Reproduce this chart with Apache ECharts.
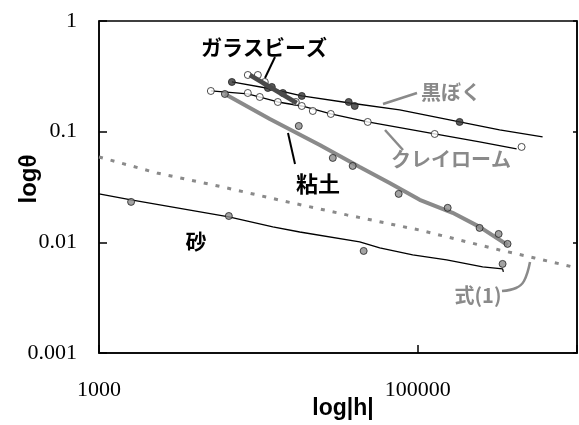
<!DOCTYPE html>
<html><head><meta charset="utf-8">
<script src="https://cdn.jsdelivr.net/npm/echarts@6/dist/echarts.min.js"></script>
<style>html,body{margin:0;padding:0;background:#fff}#c{width:579px;height:425px}</style>
</head><body><div id="c"></div>
<script>
const xTickLabels = [1000, 100000];
const yTickLabels = [1, 0.1, 0.01, 0.001];

const sandLine = [[1000,0.0274],[1590,0.0242],[6530,0.0170],[12330,0.0138],[18200,0.0124],[43270,0.0101],[57800,0.0089],[93070,0.00769],[152000,0.00693],[255800,0.0060],[341200,0.00575],[345000,0.0054]];
const sandPts = [[1590,0.0232],[6530,0.0173],[45820,0.00836],[341200,0.00638]];
const eq1Line = [[1000,0.0591],[2310,0.0423],[5990,0.0316],[14250,0.0237],[35900,0.0177],[103000,0.0129],[326700,0.00853],[541700,0.00723],[1000000,0.00587]];
const clayLine = [[6166,0.2191],[11810,0.1302],[24300,0.0759],[43270,0.0480],[66700,0.0344],[103000,0.0242],[165700,0.0185],[244700,0.0138],[366600,0.00947]];
const clayPts = [[6166,0.2191],[17940,0.1126],[29330,0.0579],[39100,0.0490],[76000,0.0274],[154300,0.0205],[244700,0.0135],[322200,0.0119],[366600,0.00968]];
const kuroLine = [[6823,0.2812],[12150,0.243],[18740,0.2102],[37500,0.1816],[77100,0.1571],[183300,0.1224],[326700,0.1036],[608300,0.0896]];
const kuroPts = [[6823,0.2812],[11480,0.2481],[18740,0.2102],[36910,0.1854],[40270,0.1706],[183300,0.1224]];
const loamLine = [[5035,0.2332],[8590,0.2191],[13250,0.1854],[18740,0.1706],[28500,0.1445],[48580,0.1224],[127900,0.0953],[244700,0.0807],[417800,0.0698]];
const loamPts = [[5035,0.2332],[8590,0.2237],[10210,0.2058],[13250,0.1854],[18740,0.1706],[21970,0.1538],[28500,0.1445],[48580,0.1224],[127900,0.0953],[449000,0.0728]];
const beadLine = [[8846,0.3253],[17430,0.1816]];
const beadOpen = [[8590,0.3253],[9930,0.3253],[10980,0.2812],[17190,0.1854]];
const beadDark = [[12150,0.2534],[14250,0.2237]];

const chart = echarts.init(document.getElementById('c'), null, {renderer:'canvas'});
const GRAY = '#8a8a8a';
function lineS(data, color, width, type, z) {
  return {type:'line', data, showSymbol:false, symbol:'none', lineStyle:{color, width, type: type||'solid'}, z: z||2, silent:true};
}
function ptS(data, fill, z) {
  return {type:'scatter', data, symbol:'circle', symbolSize:7, itemStyle:{color:fill, borderColor:'#222', borderWidth:1}, z: z||5, silent:true};
}
const jp = '"Noto Sans CJK JP", sans-serif';
function label(text, x, y, size, color) {
  return {type:'text', x, y, z:20, style:{text, align:'center', verticalAlign:'middle', fontSize:size, fontWeight:'bold', fontFamily:jp, fill:color}};
}
function seg(points, color, width, smooth) {
  return {type:'polyline', z:20, shape:{points, smooth: smooth||0}, style:{stroke:color, lineWidth:width, fill:null}};
}
const option = {
  animation:false,
  backgroundColor:'#fff',
  grid:{left:99, right:2, top:21, bottom:72, show:true, borderColor:'#000', borderWidth:1.5, containLabel:false, outerBoundsMode:'none'},
  xAxis:{type:'log', logBase:10, min:1000, max:1000000, interval:2,
    name:'log|h|', nameLocation:'middle', nameGap:44, nameMoveOverlap:false,
    nameTextStyle:{fontFamily:'Liberation Sans', fontWeight:'bold', fontSize:23, color:'#000', padding:[0,0,0,10]},
    axisLine:{lineStyle:{color:'#000', width:1.5}},
    axisTick:{inside:true, length:8, lineStyle:{color:'#000', width:1.5}},
    minorTick:{show:false}, splitLine:{show:false},
    axisLabel:{margin:26, fontFamily:'Liberation Serif', fontSize:22, color:'#000',
      formatter: v => { const r = Math.round(v); return xTickLabels.includes(r) ? String(r) : ''; }}
  },
  yAxis:[{type:'log', logBase:10, min:0.001, max:1,
    name:'logθ', nameLocation:'middle', nameRotate:90, nameGap:58, nameMoveOverlap:false,
    nameTextStyle:{fontFamily:'Liberation Sans', fontWeight:'bold', fontSize:24, color:'#000', padding:[0,0,0,16]},
    axisLine:{lineStyle:{color:'#000', width:1.5}},
    axisTick:{inside:true, length:8, lineStyle:{color:'#000', width:1.5}},
    minorTick:{show:false}, splitLine:{show:false},
    axisLabel:{margin:22, fontFamily:'Liberation Serif', fontSize:22, color:'#000',
      formatter: v => { const n = Number(v.toPrecision(6)); return yTickLabels.includes(n) ? String(n) : ''; }}
  },{type:'log', logBase:10, min:0.001, max:1, position:'right',
    axisLine:{show:true, lineStyle:{color:'#000', width:1.5}},
    axisTick:{inside:true, length:4, lineStyle:{color:'#000', width:1.5}},
    axisLabel:{show:false}, splitLine:{show:false}, minorTick:{show:false}
  }],
  series:[
    lineS(sandLine, '#000', 1.3),
    lineS(eq1Line, GRAY, 3, [4,8], 3),
    lineS(loamLine, '#000', 1.3),
    lineS(kuroLine, '#000', 1.3),
    lineS(clayLine, GRAY, 4, 'solid', 4),
    ptS(sandPts, '#8c8c8c'),
    ptS(clayPts, '#8c8c8c'),
    ptS(loamPts, '#fff'),
    ptS(kuroPts, '#333'),
    ptS(beadOpen, '#fff', 6),
    ptS(beadDark, '#333', 6),
    lineS(beadLine, '#4a4a4a', 4.5, 'solid', 7)
  ],
  graphic:[
    label('ガラスビーズ', 264, 47, 21, '#000'),
    label('黒ぼく', 451, 92, 20, GRAY),
    label('クレイローム', 451, 159, 20, GRAY),
    label('粘土', 318, 184, 22, '#000'),
    label('砂', 196, 241, 21, '#000'),
    label('式(1)', 478, 295, 20, GRAY),
    seg([[275,57],[265,78]], '#000', 2),
    seg([[383,104],[417,93]], GRAY, 2.5),
    seg([[385,130],[403,150]], GRAY, 2.5),
    seg([[288,133],[295,164]], '#000', 2),
    seg([[502,291],[516,288],[524,281],[530,262]], GRAY, 2.5, 0.4)
  ]
};
chart.setOption(option);
</script></body></html>
